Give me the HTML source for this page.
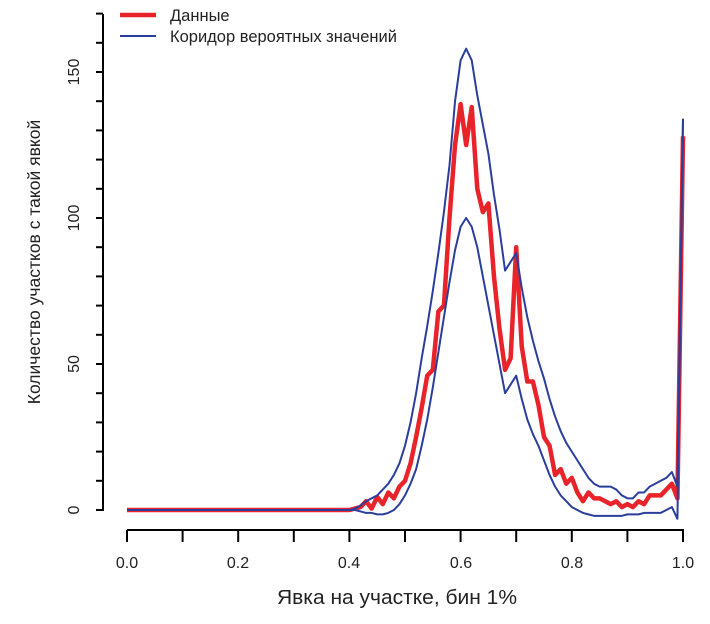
<!DOCTYPE html>
<html><head><meta charset="utf-8"><style>
html,body{margin:0;padding:0;background:#fff;}
svg{display:block;font-family:"Liberation Sans",sans-serif;}
</style></head><body>
<svg id="s" width="710" height="624" viewBox="0 0 710 624" xmlns="http://www.w3.org/2000/svg">
<g stroke="#000" stroke-width="2" fill="none">
<line x1="103" y1="14" x2="103" y2="511"/>
<line x1="127" y1="530" x2="684" y2="530"/>
</g>
<g id="ticks" stroke="#000" stroke-width="2"></g>
<g font-size="16" fill="#222">
<text transform="translate(79,510) rotate(-90)" text-anchor="middle">0</text>
<text transform="translate(79,364) rotate(-90)" text-anchor="middle">50</text>
<text transform="translate(79,218) rotate(-90)" text-anchor="middle">100</text>
<text transform="translate(79,72) rotate(-90)" text-anchor="middle">150</text>
<text x="127" y="568" text-anchor="middle">0.0</text>
<text x="238" y="568" text-anchor="middle">0.2</text>
<text x="349" y="568" text-anchor="middle">0.4</text>
<text x="461" y="568" text-anchor="middle">0.6</text>
<text x="572" y="568" text-anchor="middle">0.8</text>
<text x="683" y="568" text-anchor="middle">1.0</text>
<text transform="translate(40,262) rotate(-90)" text-anchor="middle" font-size="17.5">Количество участков с такой явкой</text>
<text x="397" y="604" text-anchor="middle" font-size="20" textLength="240" lengthAdjust="spacingAndGlyphs">Явка на участке, бин 1%</text>
<text x="170" y="21" font-size="16.5">Данные</text>
<text x="170" y="42" font-size="16.5">Коридор вероятных значений</text>
</g>
<line x1="120" y1="15" x2="156" y2="15" stroke="#e8232a" stroke-width="4.5"/>
<line x1="120" y1="36" x2="156" y2="36" stroke="#2b3e9c" stroke-width="2"/>
<g id="lines" fill="none" stroke-linejoin="round"></g>
</svg>
<script>
function X(t){return 127+556*t;} function Y(v){return 510-2.92*v;}
var tk=document.getElementById("ticks"),h="";
for(var i=0;i<=10;i++){var x=X(i/10);h+='<line x1="'+x+'" y1="530" x2="'+x+'" y2="542"/>';}
for(var v=0;v<=170;v+=10){var y=Y(v);h+='<line x1="96" y1="'+y+'" x2="103" y2="'+y+'"/>';}
tk.innerHTML=h;
var red=[0.5,1,3,0.5,4.5,2,6,4,8,10,16,25,35,46,48,68,70,100,125,139,125,138,110,102,105,80,62,48,52,90,56,44,44,36,25,22,12,14,9,11,6,3,6,4,4,3,2,3,1,2,1,3,2,5,5,5,7,9,4,128];
var up=[0.5,1.5,3,4,5,7,9,12,16,22,30,40,52,63,75,88,102,118,140,154,158,154,142,132,122,108,96,82,85,88,76,66,58,51,45,38,32,27,23,20,17,14,11,9,8,8,8,7,5,4,4,6,6,8,9,10,11,13,8,134];
var lo=[0,-0.5,-1,-1,-1.5,-1.5,-1,0,2,5,9,14,22,31,42,54,66,78,89,97,100,97,90,80,70,60,50,40,43,46,38,31,26,22,17,12,8,5,3,1,0,-1,-1.5,-2,-2,-2,-2,-2,-2,-1.5,-1.5,-1.5,-1,-1,-1,-1,0,1,-3,134];
function pts(a){var p=[X(0)+","+Y(0),X(0.40)+","+Y(0)];for(var i=0;i<a.length;i++)p.push(X(0.41+i*0.01)+","+Y(a[i]));return p.join(" ");}
document.getElementById("lines").innerHTML=
'<polyline points="'+pts(red)+'" stroke="#e8232a" stroke-width="4.5"/>'+
'<polyline points="'+pts(up)+'" stroke="#2b3e9c" stroke-width="2"/>'+
'<polyline points="'+pts(lo)+'" stroke="#2b3e9c" stroke-width="2"/>';
</script>
</body></html>
